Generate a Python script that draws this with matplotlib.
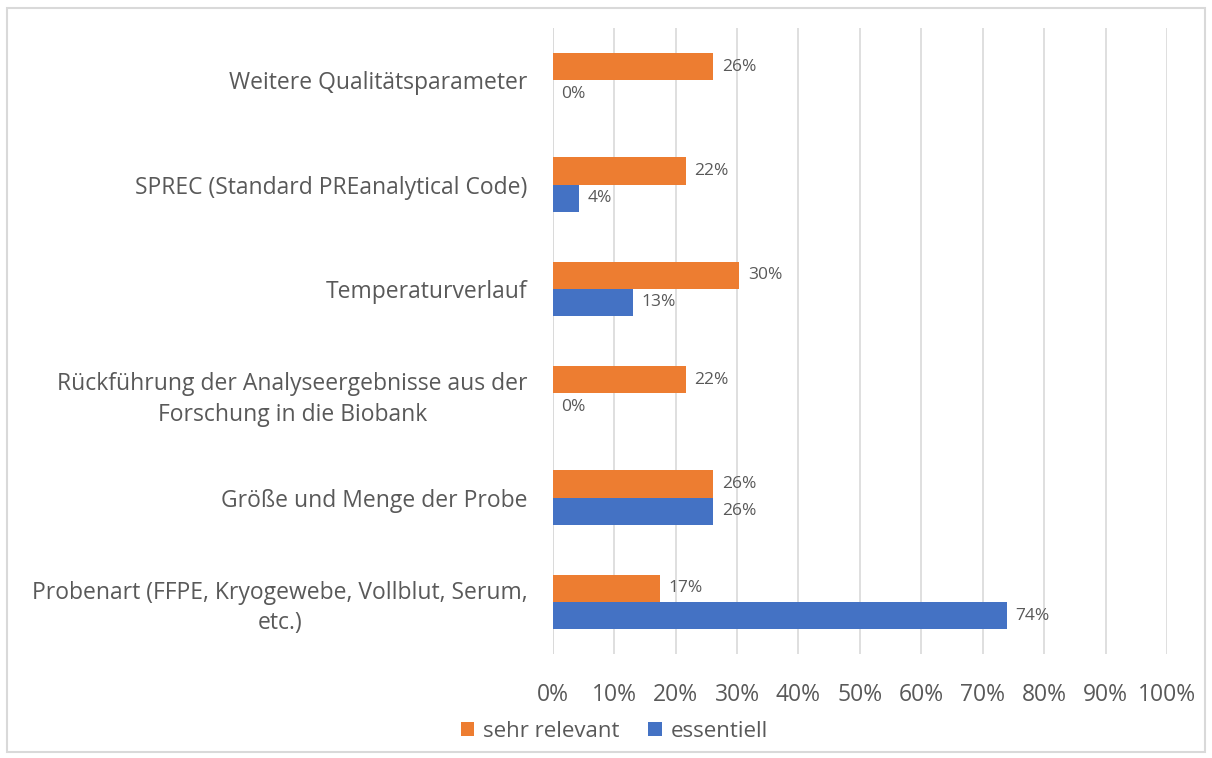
import numpy as np
import matplotlib.pyplot as plt
from matplotlib.patches import Rectangle

kategorien = ['Weitere Qualitätsparameter',
              'SPREC (Standard PREanalytical Code)',
              'Temperaturverlauf',
              'Rückführung der Analyseergebnisse aus der\nForschung in die Biobank',
              'Größe und Menge der Probe',
              'Probenart (FFPE, Kryogewebe, Vollblut, Serum,\netc.)']
sehr_relevant = [26.1, 21.7, 30.4, 21.7, 26.1, 17.4]
essentiell = [0.0, 4.3, 13.0, 0.0, 26.1, 73.9]

orange = '#ED7D31'
blau = '#4472C4'
grau = '#595959'

plt.rcParams['font.family'] = ['Open Sans', 'DejaVu Sans']

fig = plt.figure(figsize=(12.12, 7.58), dpi=100)
ax = fig.add_axes([0.456, 0.137, 0.507, 0.826])

y = np.arange(len(kategorien))
h = 0.26
ax.barh(y - h / 2, sehr_relevant, height=h, color=orange, label='sehr relevant', zorder=3)
ax.barh(y + h / 2, essentiell, height=h, color=blau, label='essentiell', zorder=3)

for i in range(len(kategorien)):
    ax.text(sehr_relevant[i] + 1.4, y[i] - h / 2, '%d%%' % round(sehr_relevant[i]),
            va='center', ha='left', fontsize=12.5, color=grau)
    ax.text(essentiell[i] + 1.4, y[i] + h / 2, '%d%%' % round(essentiell[i]),
            va='center', ha='left', fontsize=12.5, color=grau)

ax.set_xlim(0, 100)
ax.set_ylim(len(kategorien) - 0.5, -0.5)
ax.set_xticks(np.arange(0, 101, 10))
ax.set_xticklabels(['%d%%' % v for v in range(0, 101, 10)])
ax.set_yticks(y)
ax.set_yticklabels(kategorien, multialignment='center', linespacing=1.35)
ax.tick_params(axis='x', labelsize=16.5, colors=grau, length=0, pad=21)
ax.tick_params(axis='y', labelsize=16.5, colors=grau, length=0, pad=18)
ax.grid(axis='x', color='#D9D9D9', linewidth=1.2, zorder=0)
for s in ax.spines.values():
    s.set_visible(False)
ax.axvline(0, color='#D9D9D9', linewidth=1.2, zorder=2)

ax.legend(loc='upper center', bbox_to_anchor=(0.1, -0.075), ncol=2, frameon=False,
          fontsize=16, labelcolor=grau, handlelength=0.6, handleheight=0.6,
          handletextpad=0.4, columnspacing=1.3)

fig.patches.append(Rectangle((0.006, 0.008), 0.988, 0.982, transform=fig.transFigure,
                             fill=False, edgecolor='#D9D9D9', linewidth=1.5))

fig.savefig('out.png', dpi=100)
